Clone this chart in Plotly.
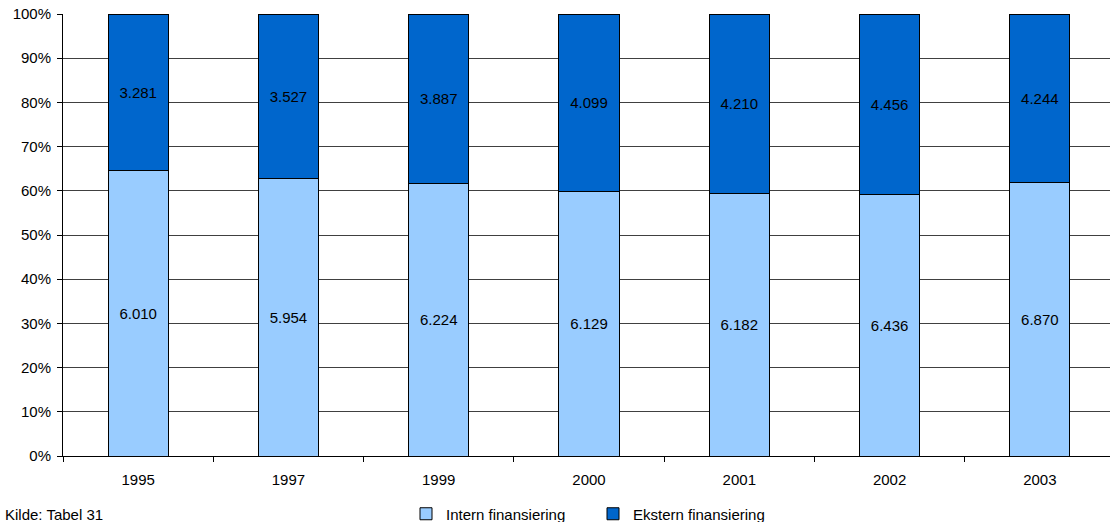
import plotly.graph_objects as go

years = ["1995", "1997", "1999", "2000", "2001", "2002", "2003"]
intern = [6010, 5954, 6224, 6129, 6182, 6436, 6870]
ekstern = [3281, 3527, 3887, 4099, 4210, 4456, 4244]
y_ticks = [0, 10, 20, 30, 40, 50, 60, 70, 80, 90, 100]

FONT = "Liberation Sans, Arial"
FS = 15
W, H = 1116, 522


def fmt(v):
    return f"{v:,}".replace(",", ".")


fig = go.Figure()
fig.add_trace(go.Bar(
    x=years, y=intern, name="Intern finansiering",
    marker=dict(color="#99CCFF", line=dict(color="#000000", width=1)),
    text=[fmt(v) for v in intern], textposition="inside", insidetextanchor="middle",
    textfont=dict(color="#000000", size=FS, family=FONT),
    textangle=0, hoverinfo="skip",
))
fig.add_trace(go.Bar(
    x=years, y=ekstern, name="Ekstern finansiering",
    marker=dict(color="#0066CC", line=dict(color="#000000", width=1)),
    text=[fmt(v) for v in ekstern], textposition="inside", insidetextanchor="middle",
    textfont=dict(color="#000000", size=FS, family=FONT),
    textangle=0, hoverinfo="skip",
))

fig.update_layout(
    barmode="stack", barnorm="percent", bargap=0.6,
    width=W, height=H,
    margin=dict(l=63, r=1, t=14, b=66, autoexpand=False),
    paper_bgcolor="white", plot_bgcolor="white",
    font=dict(family=FONT, size=FS, color="#000000"),
    showlegend=True,
    legend=dict(orientation="h", xref="container", yref="container",
                x=406 / W, xanchor="left", y=8 / H, yanchor="middle",
                font=dict(size=FS, family=FONT), itemwidth=30, traceorder="normal",
                entrywidth=142, bgcolor="rgba(0,0,0,0)"),
    uniformtext=dict(mode=False),
)
fig.update_xaxes(
    type="category", showline=True, linecolor="#000000", linewidth=1,
    ticks="outside", ticklen=5, tickcolor="#000000", tickson="boundaries",
    showgrid=False, tickfont=dict(size=FS), automargin=False,
    ticklabelstandoff=10,
)
fig.update_yaxes(
    range=[0, 100], tickvals=y_ticks, ticktext=[f"{t}%" for t in y_ticks],
    showline=True, linecolor="#000000", linewidth=1,
    ticks="outside", ticklen=5, tickcolor="#000000",
    showgrid=True, gridcolor="#404040", gridwidth=1,
    zeroline=False, tickfont=dict(size=FS), automargin=False,
    ticklabelstandoff=3,
)
fig.add_annotation(text="Kilde: Tabel 31", xref="paper", yref="paper",
                   x=-63 / (W - 64), y=-58 / 442, xanchor="left", yanchor="middle",
                   showarrow=False, font=dict(size=FS, color="#000000"),
                   xshift=3)

fig.write_html(
    "out.html",
    config={"displayModeBar": False},
    post_script="document.body.style.margin='0';document.body.style.overflow='hidden';",
)
